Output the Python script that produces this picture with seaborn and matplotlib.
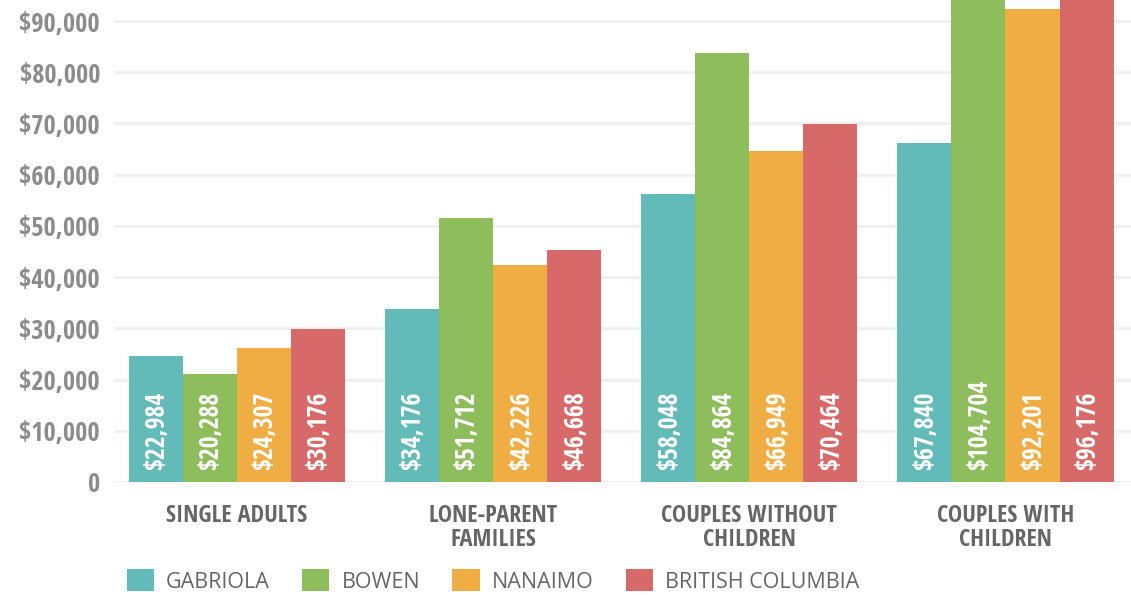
import matplotlib
matplotlib.use("Agg")
import matplotlib.pyplot as plt
import seaborn as sns
import pandas as pd

groups = ["SINGLE ADULTS", "LONE-PARENT\nFAMILIES", "COUPLES WITHOUT\nCHILDREN", "COUPLES WITH\nCHILDREN"]
regions = ["GABRIOLA", "BOWEN", "NANAIMO", "BRITISH COLUMBIA"]
colors = ["#62BBB8", "#8DBE5B", "#F0AD44", "#D76A68"]

# bar heights as drawn in the original graphic (not exactly the printed numbers)
gabriola = [24600, 33800, 56300, 66200]
bowen = [21100, 51600, 83800, 104704]
nanaimo = [26200, 42400, 64700, 92400]
bc = [29900, 45300, 69900, 96176]

# printed values inside the bars
gabriola_lbl = ["$22,984", "$34,176", "$58,048", "$67,840"]
bowen_lbl = ["$20,288", "$51,712", "$84,864", "$104,704"]
nanaimo_lbl = ["$24,307", "$42,226", "$66,949", "$92,201"]
bc_lbl = ["$30,176", "$46,668", "$70,464", "$96,176"]

yticks = [0, 10000, 20000, 30000, 40000, 50000, 60000, 70000, 80000, 90000]
ytick_lbl = ["0", "$10,000", "$20,000", "$30,000", "$40,000", "$50,000",
             "$60,000", "$70,000", "$80,000", "$90,000"]

df = pd.DataFrame({
    "group": groups * 4,
    "region": [r for r in regions for _ in groups],
    "value": gabriola + bowen + nanaimo + bc,
})
labels = [gabriola_lbl, bowen_lbl, nanaimo_lbl, bc_lbl]

cond = ["Open Sans Condensed", "DejaVu Sans"]

sns.set_style("white")
fig = plt.figure(figsize=(11.31, 5.95), dpi=100)
ax = fig.add_axes([114 / 1131, 113 / 595, 1 - 114 / 1131, 1 - 113 / 595])

sns.barplot(data=df, x="group", y="value", hue="region", hue_order=regions,
            palette=colors, saturation=1, width=0.84375, errorbar=None,
            linewidth=0, edgecolor="none", ax=ax)

ax.set_ylim(0, 94100)
ax.set_xlim(-0.48, 3.49)
ax.set_yticks(yticks)
ax.set_yticklabels(ytick_lbl, family=cond, fontweight="bold",
                   fontsize=19, color="#8c8c8c")
ax.set_xticks(range(len(groups)))
ax.set_xticklabels(groups, family=cond, fontweight="bold",
                   fontsize=17.5, color="#666666", linespacing=1.04, va="top")
ax.tick_params(axis="both", length=0)
ax.tick_params(axis="y", pad=10)
ax.tick_params(axis="x", pad=15.5)
ax.set_xlabel("")
ax.set_ylabel("")
ax.grid(axis="y", color="#efefef", linewidth=2)
ax.set_axisbelow(True)
for s in ax.spines.values():
    s.set_visible(False)

for cont, lbls in zip(ax.containers, labels):
    for bar, txt in zip(cont.patches, lbls):
        ax.annotate(txt, (bar.get_x() + bar.get_width() / 2, 0),
                    xytext=(1, 12), textcoords="offset pixels",
                    rotation=90, ha="center", va="bottom", color="white",
                    family=cond, fontweight="bold", fontsize=18.5)

handles, names = ax.get_legend_handles_labels()
ax.get_legend().remove()
fig.legend(handles, names, loc="center left", bbox_to_anchor=(127 / 1131, 14 / 595),
           ncol=4, frameon=False, borderpad=0, borderaxespad=0,
           prop={"family": "Open Sans", "size": 15.5},
           labelcolor="#666666", handlelength=1.26, handleheight=1.2,
           handletextpad=0.56, columnspacing=1.5)

fig.savefig("out.png", dpi=100)
